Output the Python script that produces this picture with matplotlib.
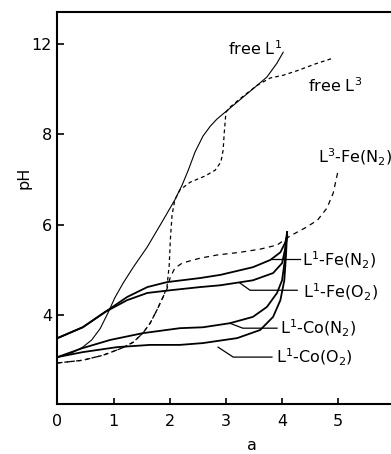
import numpy as np
import matplotlib
matplotlib.use('Agg')
import matplotlib.pyplot as plt

# --- data (a = equivalents of base added) ---
# free ligand L1
a_L1 = [0, 0.22, 0.45, 0.61, 0.76, 0.90, 1.02, 1.17, 1.35, 1.60, 1.88, 2.09, 2.22,
        2.33, 2.45, 2.59, 2.72, 2.84, 3.07, 3.31, 3.56, 3.73, 3.91, 4.02]
ph_L1 = [3.07, 3.14, 3.29, 3.45, 3.70, 4.05, 4.38, 4.71, 5.06, 5.51, 6.10, 6.55, 6.88,
         7.21, 7.61, 7.96, 8.36, 8.68, 9.16, 9.66, 10.18, 10.54, 11.16, 11.64]

# free ligand L3
a_L3 = [0, 0.45, 0.81, 1.15, 1.35, 1.52, 1.65, 1.77, 1.88, 1.95, 1.99, 2.01, 2.04,
        2.09, 2.18, 2.36, 2.63, 2.81, 2.91, 2.95, 2.97, 3.00, 3.07, 3.31, 3.56,
        3.79, 4.02, 4.29, 4.59, 4.91]
ph_L3 = [2.94, 3.00, 3.11, 3.27, 3.40, 3.60, 3.82, 4.11, 4.40, 4.62, 5.11, 5.66, 6.21,
         6.55, 6.77, 6.94, 7.08, 7.21, 7.39, 7.65, 8.06, 8.98, 9.20, 9.70, 10.18,
         10.50, 10.62, 10.84, 11.12, 11.38]

# L3-Fe(N2)
a_L3Fe = [0, 0.45, 0.81, 1.15, 1.35, 1.52, 1.65, 1.77, 1.88, 1.95, 2.01, 2.09, 2.22,
          2.36, 2.54, 2.84, 3.25, 3.61, 3.91, 4.14, 4.41, 4.63, 4.80, 4.91, 5.00]
ph_L3Fe = [2.94, 3.00, 3.11, 3.27, 3.40, 3.60, 3.82, 4.11, 4.40, 4.58, 4.84, 5.04, 5.15,
           5.20, 5.26, 5.33, 5.39, 5.46, 5.55, 5.75, 5.93, 6.10, 6.37, 6.70, 7.21]

# L1-Fe(N2)
a_FeN2 = [0, 0.45, 0.85, 1.24, 1.60, 1.95, 2.54, 2.90, 3.48, 3.79, 3.97, 4.05, 4.09]
ph_FeN2 = [3.49, 3.73, 4.07, 4.40, 4.62, 4.73, 4.82, 4.89, 5.06, 5.22, 5.39, 5.59, 5.75]

# L1-Fe(O2)
a_FeO2 = [0, 0.45, 0.85, 1.24, 1.60, 2.01, 2.54, 2.90, 3.48, 3.84, 4.00, 4.05, 4.09]
ph_FeO2 = [3.49, 3.73, 4.07, 4.33, 4.49, 4.55, 4.62, 4.66, 4.77, 4.93, 5.15, 5.44, 5.73]

# L1-Co(N2)
a_CoN2 = [0, 0.45, 0.94, 1.52, 2.18, 2.59, 3.07, 3.48, 3.73, 3.91, 4.00, 4.05, 4.07, 4.09]
ph_CoN2 = [3.07, 3.27, 3.45, 3.60, 3.71, 3.73, 3.82, 3.96, 4.18, 4.49, 4.77, 5.22, 5.66, 5.84]

# L1-Co(O2)
a_CoO2 = [0, 0.45, 1.06, 1.65, 2.18, 2.59, 3.20, 3.61, 3.84, 3.97, 4.04, 4.07, 4.09]
ph_CoO2 = [3.07, 3.18, 3.29, 3.34, 3.34, 3.38, 3.49, 3.67, 3.96, 4.33, 4.77, 5.33, 5.84]

# axis ticks as printed (the pH ticks are evenly spaced on the page)
x_ticks = [0, 1, 2, 3, 4, 5]
y_ticks = [4, 6, 8, 12]


# the printed pH axis: equal spacing between 4, 6, 8 and 12
knot_ph = np.array([-100.0] + y_ticks + [100.0])
knot_pos = np.array([(-100 - 4) / 2.0, 0, 1, 2, 3, 3 + (100 - 12) / 4.0])


def forward(v):
    return np.interp(v, knot_ph, knot_pos)


def inverse(p):
    return np.interp(p, knot_pos, knot_ph)


fig = plt.figure(figsize=(3.91, 4.54), dpi=100)
ax = fig.add_axes([0.147, 0.110, 0.853, 0.8635])
ax.set_yscale('function', functions=(forward, inverse))

# curves
ax.plot(a_L1, ph_L1, color='k', lw=0.8)
ax.plot(a_L3, ph_L3, color='k', lw=0.9, linestyle=(0, (3, 2.5)))
ax.plot(a_L3Fe, ph_L3Fe, color='k', lw=0.9, linestyle=(0, (4, 3.5)))
ax.plot(a_FeN2, ph_FeN2, color='k', lw=1.3)
ax.plot(a_FeO2, ph_FeO2, color='k', lw=1.3)
ax.plot(a_CoN2, ph_CoN2, color='k', lw=1.3)
ax.plot(a_CoO2, ph_CoO2, color='k', lw=1.3)

# leader lines from curve to label
leaders = [
    ([3.82, 4.32], [5.24, 5.24]),
    ([3.25, 3.43, 4.27], [4.71, 4.55, 4.55]),
    ([3.07, 3.30, 3.91], [3.82, 3.71, 3.71]),
    ([2.86, 3.13, 3.82], [3.29, 3.07, 3.07]),
]
for lx, ly in leaders:
    ax.plot(lx, ly, color='k', lw=0.9)

fs = 11.5
ax.text(3.03, 11.8, r'free L$^1$', fontsize=fs, va='center')
ax.text(4.47, 10.18, r'free L$^3$', fontsize=fs, va='center')
ax.text(4.64, 7.50, r'L$^3$-Fe(N$_2$)', fontsize=fs, va='center')
ax.text(4.36, 5.22, r'L$^1$-Fe(N$_2$)', fontsize=fs, va='center')
ax.text(4.38, 4.51, r'L$^1$-Fe(O$_2$)', fontsize=fs, va='center')
ax.text(3.97, 3.71, r'L$^1$-Co(N$_2$)', fontsize=fs, va='center')
ax.text(3.90, 3.07, r'L$^1$-Co(O$_2$)', fontsize=fs, va='center')

ax.set_xlim(0, 5.94)
ax.set_ylim(2.03, 13.42)
ax.set_xticks(x_ticks)
ax.set_yticks(y_ticks)
ax.set_yticklabels([str(t) for t in y_ticks])
ax.tick_params(direction='in', labelsize=fs, width=1.2)
ax.tick_params(axis='x', length=4, pad=7)
ax.tick_params(axis='y', length=5, pad=4)
ax.spines['right'].set_visible(False)
for s in ['left', 'top', 'bottom']:
    ax.spines[s].set_linewidth(1.5)

ax.set_xlabel('a', fontsize=fs)
ax.set_ylabel('pH', fontsize=fs)
ax.xaxis.set_label_coords(0.583, -0.087)
ax.yaxis.set_label_coords(-0.077, 0.577)

fig.savefig('out.png', dpi=100)
